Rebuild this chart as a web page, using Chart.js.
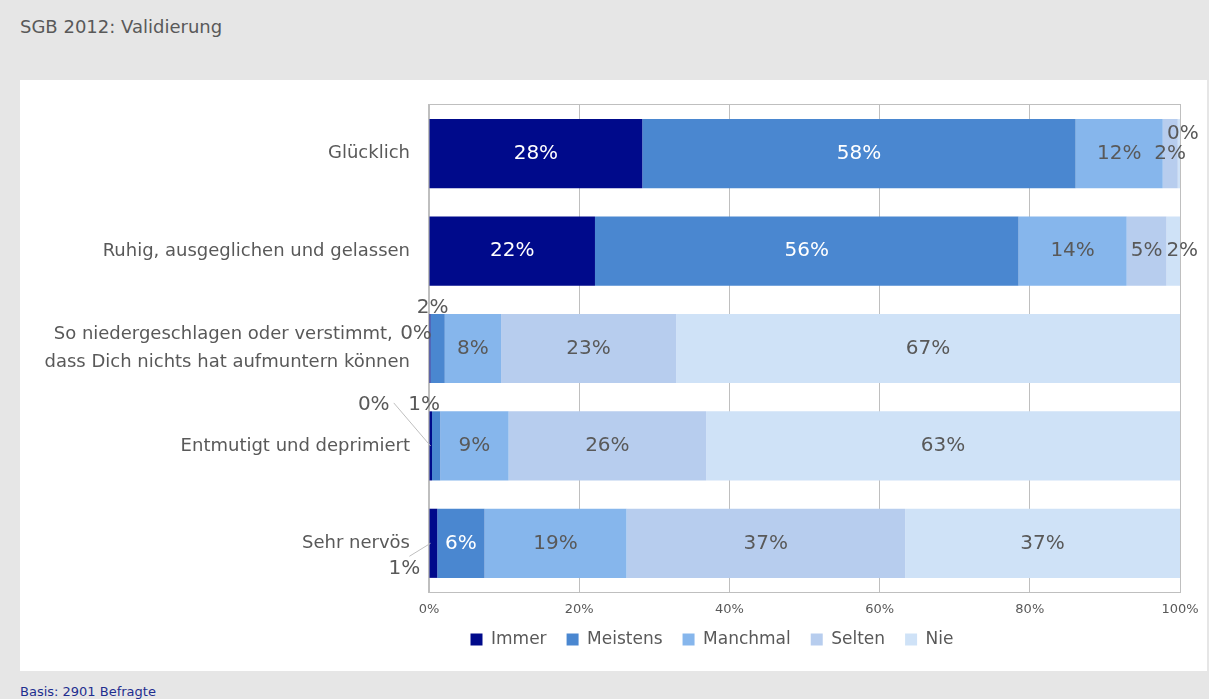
<!DOCTYPE html>
<html>
<head>
<meta charset="utf-8">
<script src="https://cdn.jsdelivr.net/npm/chart.js@4"></script>
<style>
  body{margin:0;background:#e6e6e6;width:1209px;height:699px;overflow:hidden;position:relative;font-family:"DejaVu Sans",sans-serif;}
  #title{position:absolute;left:20px;top:18px;font-size:18px;line-height:1;color:#595959;}
  #panel{position:absolute;left:20px;top:80px;width:1187px;height:591px;background:#fff;}
  #basis{position:absolute;left:20px;top:685px;font-size:13px;line-height:1;color:#1f2f8f;}
</style>
</head>
<body>
<div id="title">SGB 2012: Validierung</div>
<div id="panel"><canvas id="chart"></canvas></div>
<div id="basis">Basis: 2901 Befragte</div>
<script>
// Daten
const categories = [
    "Glücklich",
    "Ruhig, ausgeglichen und gelassen",
    ["So niedergeschlagen oder verstimmt,   ", "dass Dich nichts hat aufmuntern können"],
    "Entmutigt und deprimiert",
    "Sehr nervös"
];
const immer    = [28.4, 22.1, 0.2, 0.4, 1.1];
const meistens = [57.7, 56.4, 1.9, 1.1, 6.3];
const manchmal = [11.6, 14.4, 7.5, 9.1, 18.9];
const selten   = [2.0, 5.3, 23.3, 26.3, 37.1];
const nie      = [0.3, 1.8, 67.1, 63.1, 36.6];
const xTicks   = [0, 20, 40, 60, 80, 100];

const GRAY = "#595959";
const GRID = "#bfbfbf";

// Beschriftungen kleiner Segmente ausserhalb
const labelPos = {
    "4-0": {dx: 4, dy: -20},
    "4-1": {dx: 9, dy: 0},
    "0-2": {dx: -14, dy: -15},
    "1-2": {dx: -5, dy: -41},
    "0-3": {dx: -57, dy: -41, line: [20, -2]},
    "1-3": {dx: -12, dy: -41},
    "0-4": {dx: -29, dy: 25, line: [5, -12]}
};

const frame = {
    id: "frame",
    beforeDatasetsDraw(chart){
        const a = chart.chartArea, ctx = chart.ctx;
        ctx.save(); ctx.strokeStyle = GRID; ctx.lineWidth = 1;
        ctx.strokeRect(Math.round(a.left) - 0.5, Math.round(a.top) - 0.5, Math.round(a.right - a.left) + 1, Math.round(a.bottom - a.top) + 1);
        ctx.restore();
    }
};

const valueLabels = {
    id: "valueLabels",
    afterDatasetsDraw(chart){
        const ctx = chart.ctx;
        ctx.save();
        ctx.font = "20px 'DejaVu Sans'";
        ctx.textAlign = "center"; ctx.textBaseline = "middle";
        chart.data.datasets.forEach((ds, di) => {
            chart.getDatasetMeta(di).data.forEach((el, i) => {
                const cx = (el.x + el.base) / 2, cy = el.y;
                const p = labelPos[di + "-" + i];
                let x = cx, y = cy;
                if(p){
                    x += p.dx; y += p.dy;
                    if(p.line){
                        ctx.strokeStyle = GRID; ctx.lineWidth = 1;
                        ctx.beginPath(); ctx.moveTo(x + p.line[0], y + p.line[1]); ctx.lineTo(el.base + 1, cy); ctx.stroke();
                    }
                }
                ctx.fillStyle = (!p && di < 2) ? "#ffffff" : GRAY;
                ctx.fillText(Math.round(ds.data[i]) + "%", x, y);
            });
        });
        ctx.restore();
    }
};

// Legende unter dem Diagramm etwas nach rechts und oben
const legendShift = {
    id: "legendShift",
    afterLayout(chart){
        const l = chart.legend;
        l.left += 112; l.right += 112;
        l.top -= 11; l.bottom -= 11;
    }
};

const series = [
    {label: "Immer", data: immer, color: "#000a8b"},
    {label: "Meistens", data: meistens, color: "#4a87d0"},
    {label: "Manchmal", data: manchmal, color: "#86b6ec"},
    {label: "Selten", data: selten, color: "#b7cdee"},
    {label: "Nie", data: nie, color: "#cfe2f7"}
];

new Chart(document.getElementById("chart"), {
    type: "bar",
    data: {
        labels: categories,
        datasets: series.map(s => ({label: s.label, data: s.data, backgroundColor: s.color, borderWidth: 0, categoryPercentage: 1, barPercentage: 0.71}))
    },
    options: {
        indexAxis: "y",
        responsive: true, maintainAspectRatio: false, animation: false,
        layout: {padding: {top: 25, right: 27, bottom: 2, left: 0}},
        scales: {
            x: {
                stacked: true, min: 0, max: 100,
                afterBuildTicks: s => { s.ticks = xTicks.map(v => ({value: v})); },
                afterFit: s => { s.height = 30; s.paddingLeft = 0; s.paddingRight = 0; },
                grid: {color: GRID, drawTicks: false},
                border: {display: false},
                ticks: {callback: v => v + "%", color: GRAY, font: {family: "DejaVu Sans", size: 13}, padding: 10, maxRotation: 0}
            },
            y: {
                stacked: true,
                afterFit: s => { s.width = 409; s.paddingTop = 0; s.paddingBottom = 0; },
                grid: {display: false, drawTicks: false},
                border: {display: false},
                ticks: {color: GRAY, font: {family: "DejaVu Sans", size: 18, lineHeight: 1.55}, padding: 19}
            }
        },
        plugins: {
            legend: {
                position: "bottom",
                labels: {color: GRAY, font: {family: "DejaVu Sans", size: 17}, boxWidth: 12, boxHeight: 12, padding: 20}
            },
            tooltip: {enabled: false}
        }
    },
    plugins: [frame, valueLabels, legendShift]
});
</script>
</body>
</html>
